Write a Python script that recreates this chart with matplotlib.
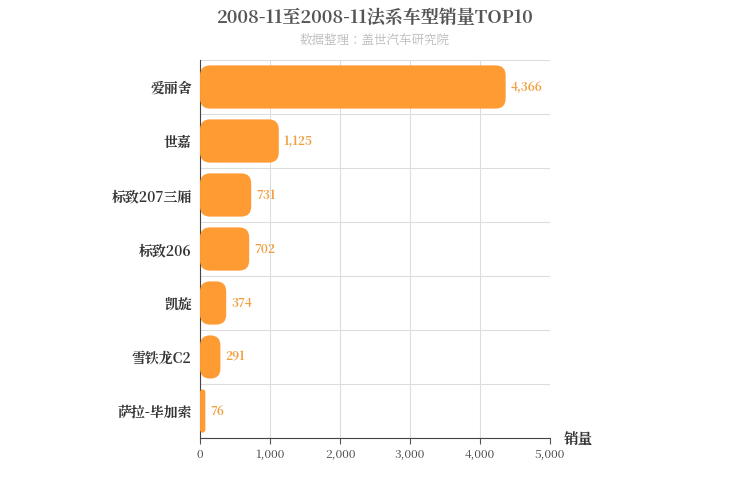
import matplotlib
matplotlib.use("Agg")
import matplotlib.pyplot as plt
from matplotlib import font_manager
from matplotlib.patches import FancyBboxPatch

cjk = [f.name for f in font_manager.fontManager.ttflist if 'CJK' in f.name]
cjk_name = 'Noto Sans CJK SC' if 'Noto Sans CJK SC' in cjk else (cjk[0] if cjk else 'DejaVu Sans')
plt.rcParams['font.family'] = [cjk_name, 'DejaVu Sans']

models = ['爱丽舍', '世嘉', '标致207三厢', '标致206', '凯旋', '雪铁龙C2', '萨拉-毕加索']
sales = [4366, 1125, 731, 702, 374, 291, 76]
xticks = [0, 1000, 2000, 3000, 4000, 5000]

fig = plt.figure(figsize=(7.5, 5), dpi=100)
ax = fig.add_axes([0.2667, 0.124, 0.4667, 0.756])
ax.set_xlim(0, 5000)
ax.set_ylim(len(models) - 0.5, -0.5)

# pixel -> data scale for rounded corners
ux = 5000 / 350.0
uy = 7 / 378.0
aspect = uy / ux
bar_h = 0.8

for i, (name, v) in enumerate(zip(models, sales)):
    r = min(10 * ux, v / 2.0)
    p = FancyBboxPatch((r, i - bar_h / 2 + r * aspect), v - 2 * r, bar_h - 2 * r * aspect,
                       boxstyle=f"round,pad={r},rounding_size={r}",
                       mutation_aspect=aspect, fc='#ff9b33', ec='none', zorder=3)
    ax.add_patch(p)
    ax.text(v + 70, i, f"{v:,}", va='center', ha='left', fontsize=8.5,
            fontweight='bold', color='#f0a040', zorder=4)

ax.set_yticks(range(len(models)))
ax.set_yticklabels(models, fontsize=10, fontweight='bold', color='#333333')
ax.set_xticks(xticks)
ax.set_xticklabels([f"{t:,}" for t in xticks], fontsize=8.5, color='#444444')
ax.tick_params(axis='y', length=0, pad=6)
ax.tick_params(axis='x', length=4, color='#555555')

for t in xticks[1:]:
    ax.axvline(t, color='#dddddd', lw=0.8, zorder=0)
for b in range(len(models) + 1):
    ax.axhline(b - 0.5, color='#dddddd', lw=0.8, zorder=0)

for s in ['top', 'right']:
    ax.spines[s].set_visible(False)
ax.spines['left'].set_color('#444444')
ax.spines['bottom'].set_color('#444444')

fig.text(0.5, 0.965, '2008-11至2008-11法系车型销量TOP10', ha='center', va='center',
         fontsize=13, fontweight='bold', color='#555555')
fig.text(0.5, 0.918, '数据整理：盖世汽车研究院', ha='center', va='center',
         fontsize=9, color='#bbbbbb')
fig.text(0.752, 0.12, '销量', ha='left', va='center', fontsize=10.5,
         fontweight='bold', color='#333333')

fig.savefig('out.png', dpi=100)
